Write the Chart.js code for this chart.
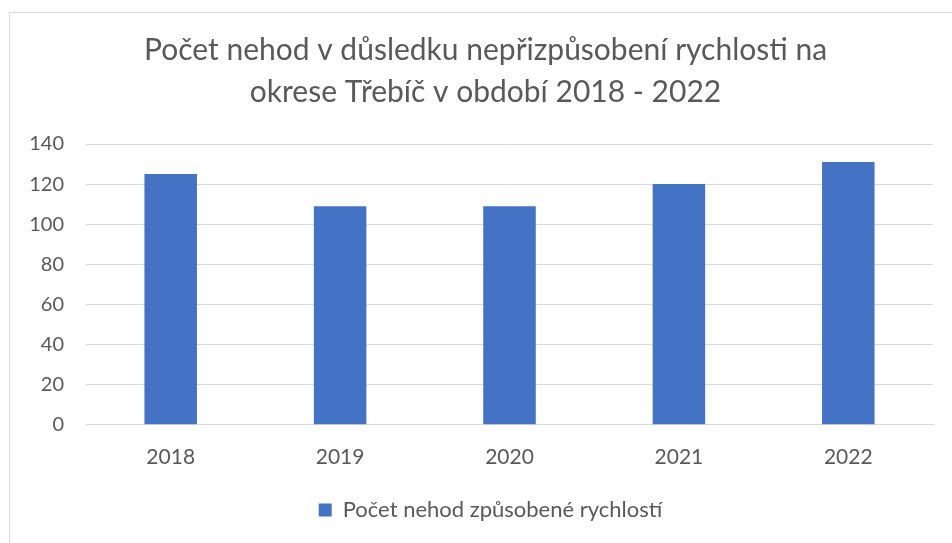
<!DOCTYPE html>
<html lang="cs">
<head>
    <meta charset="UTF-8">
    <title>Počet nehod - Třebíč</title>
    <script src="https://cdn.jsdelivr.net/npm/chart.js"></script>
    <style>
        body { margin: 0; background: #fff; }
        .frame {
            position: absolute; left: 9px; top: 12px;
            width: 980px; height: 560px;
            border: 1px solid #d9d9d9;
        }
        .wrap { position: absolute; left: 0; top: 0; width: 952px; height: 543px; }
    </style>
</head>
<body>
    <div class="frame"></div>
    <div class="wrap"><canvas id="nehody"></canvas></div>

    <script>
        // data z grafu
        const roky = ['2018', '2019', '2020', '2021', '2022'];
        const pocetNehod = [125, 109, 109, 120, 131];
        const titulek = ['Počet nehod v důsledku nepřizpůsobení rychlosti na', 'okrese Třebíč v období 2018 - 2022'];
        const nazevRady = 'Počet nehod způsobené rychlostí';

        const sedaText = '#595959';
        const font = 'Lato, "Open Sans", sans-serif';

        // nadpis a legenda jsou v originale posunute trochu doprava
        const posun = {
            id: 'posun',
            afterLayout(chart) {
                chart.titleBlock.left += 28;
                chart.legend.left += 38;
            }
        };

        const ctx = document.getElementById('nehody').getContext('2d');
        new Chart(ctx, {
            type: 'bar',
            data: {
                labels: roky,
                datasets: [{
                    label: nazevRady,
                    data: pocetNehod,
                    backgroundColor: '#4472C4',
                    borderWidth: 0,
                    categoryPercentage: 1,
                    barPercentage: 0.31
                }]
            },
            options: {
                responsive: true,
                maintainAspectRatio: false,
                animation: false,
                layout: { padding: { top: 29, right: 19, bottom: 12, left: 10 } },
                scales: {
                    x: {
                        grid: { display: false, drawTicks: false },
                        border: { color: '#d9d9d9' },
                        ticks: { color: sedaText, font: { family: font, size: 21 }, padding: 20 }
                    },
                    y: {
                        min: 0,
                        max: 140,
                        ticks: { stepSize: 20, color: sedaText, font: { family: font, size: 20 }, padding: 22 },
                        grid: { color: '#d9d9d9', lineWidth: 1, drawTicks: false },
                        border: { display: false },
                        afterFit: function (axis) { axis.width = 76; }
                    }
                },
                plugins: {
                    title: {
                        display: true,
                        text: titulek,
                        color: sedaText,
                        font: { family: font, size: 30, weight: 'normal', lineHeight: 1.4 },
                        padding: { top: 0, bottom: 31 }
                    },
                    legend: {
                        position: 'bottom',
                        labels: {
                            color: sedaText,
                            font: { family: font, size: 22 },
                            boxWidth: 13,
                            boxHeight: 13,
                            padding: 9
                        }
                    },
                    tooltip: { enabled: false }
                }
            },
            plugins: [posun]
        });
    </script>
</body>
</html>
